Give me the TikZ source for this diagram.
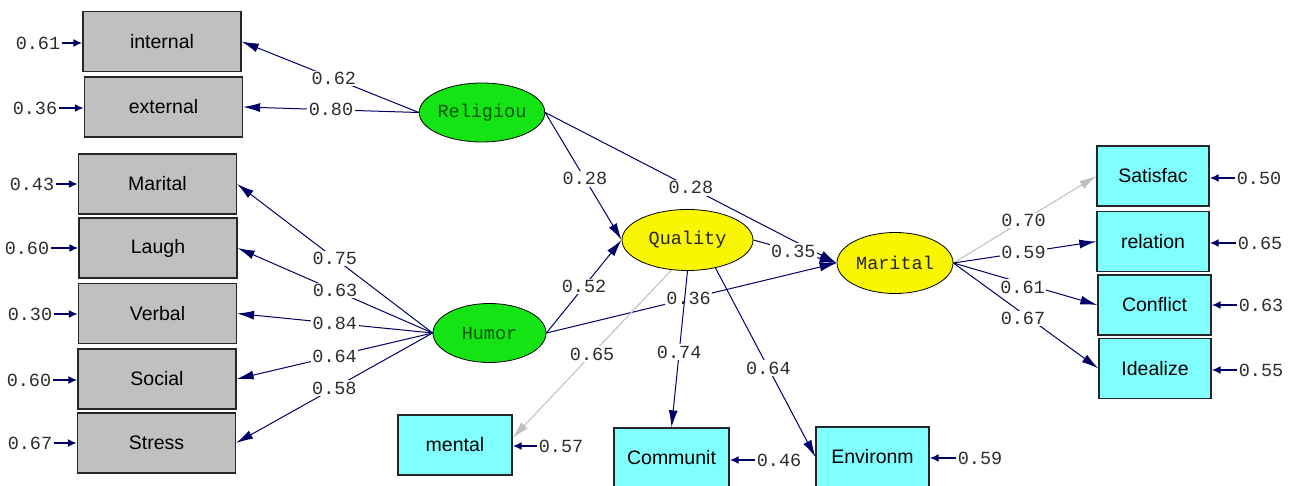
\documentclass[tikz,border=0pt]{standalone}
\usepackage{fontspec}
\setmainfont{Liberation Sans}
\newfontfamily\monof{Liberation Mono}
\usetikzlibrary{shapes.geometric,arrows.meta,calc}
\definecolor{navy}{RGB}{0,0,105}
\definecolor{labc}{RGB}{45,45,45}
\definecolor{boxgray}{RGB}{192,192,192}
\definecolor{boxcyan}{RGB}{128,255,255}
\definecolor{latgreen}{RGB}{20,228,20}
\definecolor{latyellow}{RGB}{250,245,0}
\definecolor{greentext}{RGB}{0,85,0}
\definecolor{lightline}{RGB}{190,190,190}
\begin{document}
\begin{tikzpicture}[x=1pt,y=-1pt,
  obsg/.style={rectangle, draw=black!85, line width=1.3pt, fill=boxgray, minimum width=158pt, minimum height=60pt, inner sep=0pt, font=\fontsize{19.5}{22}\selectfont},
  obsc/.style={rectangle, draw=black!85, line width=1.3pt, fill=boxcyan, minimum width=113pt, minimum height=60pt, inner sep=0pt, font=\fontsize{19.5}{22}\selectfont},
  latg/.style={ellipse, draw=black, line width=0.8pt, fill=latgreen, minimum width=113pt, minimum height=59pt, inner sep=0pt, text=greentext, font=\monof\fontsize{18.5}{20}\selectfont},
  laty/.style={ellipse, draw=black, line width=0.8pt, fill=latyellow, minimum height=61pt, inner sep=0pt, text=black!85, font=\monof\fontsize{18.5}{20}\selectfont},
  pth/.style={draw=navy, line width=1pt, -{Latex[length=17pt,width=9pt]}},
  pthl/.style={draw=lightline, line width=1pt, -{Latex[length=17pt,width=9pt]}},
  lab/.style={fill=white, inner sep=1.5pt, text=labc, font=\monof\fontsize{18.5}{20}\selectfont},
  errl/.style={inner sep=2pt, text=labc, font=\monof\fontsize{18.5}{20}\selectfont},
  errarr/.style={draw=navy, line width=2pt, -{Latex[length=9pt,width=8pt]}}
]
\fill[white] (0,0) rectangle (1293,486);
\useasboundingbox (0,0) rectangle (1293,486);

% left observed (gray)
\node[obsg] (internal) at (162,41.5) {internal};
\node[obsg] (external) at (163.5,107) {external};
\node[obsg] (mbox) at (157.5,184) {Marital};
\node[obsg] (laugh) at (158,248) {Laugh};
\node[obsg] (verbal) at (157.5,313.5) {Verbal};
\node[obsg] (social) at (157,379) {Social};
\node[obsg] (stress) at (156.5,443) {Stress};

% latent
\node[latg, minimum width=112pt] (rel) at (482,112.5) {Religiou};
\node[latg] (humor) at (489.5,333) {Humor};
\node[laty, minimum width=131pt] (qual) at (687.5,240) {Quality};
\node[laty, minimum width=116pt] (mar) at (895,263) {Marital};

% cyan observed
\node[obsc, minimum width=114pt] (mental) at (455,445) {mental};
\node[obsc, minimum width=115pt] (commun) at (671.5,458) {Communit};
\node[obsc] (environ) at (872.5,457) {Environm};
\node[obsc, minimum width=112pt] (satis) at (1153,176) {Satisfac};
\node[obsc, minimum width=112pt] (relat) at (1153,241.5) {relation};
\node[obsc] (confl) at (1154.5,305) {Conflict};
\node[obsc, minimum width=112pt] (ideal) at (1155,368.5) {Idealize};

% error terms left
\node[errl] (e1) at (38,43) {0.61};
\node[errl] (e2) at (35,108) {0.36};
\node[errl] (e3) at (32,184) {0.43};
\node[errl] (e4) at (27,248) {0.60};
\node[errl] (e5) at (30,314) {0.30};
\node[errl] (e6) at (29,380) {0.60};
\node[errl] (e7) at (30,443) {0.67};
\draw[errarr] (e1.east) -- (e1.east -| internal.west);
\draw[errarr] (e2.east) -- (e2.east -| external.west);
\draw[errarr] (e3.east) -- (e3.east -| mbox.west);
\draw[errarr] (e4.east) -- (e4.east -| laugh.west);
\draw[errarr] (e5.east) -- (e5.east -| verbal.west);
\draw[errarr] (e6.east) -- (e6.east -| social.west);
\draw[errarr] (e7.east) -- (e7.east -| stress.west);

% error terms right / bottom
\node[errl] (e8) at (561,446) {0.57};
\node[errl] (e9) at (779,460) {0.46};
\node[errl] (e10) at (980,458) {0.59};
\node[errl] (e11) at (1259,178) {0.50};
\node[errl] (e12) at (1260,243) {0.65};
\node[errl] (e13) at (1261,305) {0.63};
\node[errl] (e14) at (1261,370) {0.55};
\draw[errarr] (e8.west) -- (e8.west -| mental.east);
\draw[errarr] (e9.west) -- (e9.west -| commun.east);
\draw[errarr] (e10.west) -- (e10.west -| environ.east);
\draw[errarr] (e11.west) -- (e11.west -| satis.east);
\draw[errarr] (e12.west) -- (e12.west -| relat.east);
\draw[errarr] (e13.west) -- (e13.west -| confl.east);
\draw[errarr] (e14.west) -- (e14.west -| ideal.east);

% Religiou loadings
\draw[pth] (rel.west) -- node[lab, pos=0.48] (l1) {0.62} (internal.east);
\draw[pth] (rel.west) -- node[lab, pos=0.5] (l2) {0.80} (external.east);

% Humor loadings
\draw[pth] (humor.west) -- node[lab, pos=0.5] (l3) {0.75} (mbox.east);
\draw[pth] (humor.west) -- node[lab, pos=0.5] (l4) {0.63} (laugh.east);
\draw[pth] (humor.west) -- node[lab, pos=0.5] (l5) {0.84} (verbal.east);
\draw[pth] (humor.west) -- node[lab, pos=0.5] (l6) {0.64} (social.east);
\draw[pth] (humor.west) -- node[lab, pos=0.5] (l7) {0.58} (stress.east);

% structural paths
\draw[pth] (rel.east) -- node[lab, pos=0.52] (l8) {0.28} (qual.west);
\draw[pth] (rel.east) -- node[lab, pos=0.5] (l9) {0.28} (mar.west);
\draw[pth] (humor.east) -- node[lab, pos=0.5] (l10) {0.52} (qual.west);
\draw[pth] (humor.east) -- node[lab, pos=0.49] (l11) {0.36} (mar.west);
\draw[pth] (qual.east) -- node[lab, pos=0.48] (l12) {0.35} (mar.west);

% Quality loadings
\draw[pthl] (qual.-118) -- node[lab, pos=0.5] (l13) {0.65} (mental.7);
\draw[pth] (qual.south) -- node[lab, pos=0.52] (l14) {0.74} (commun.north);
\draw[pth] (qual.-45) -- node[lab, pos=0.53] (l15) {0.64} (environ.west);

% Marital loadings
\draw[pthl] (mar.east) -- node[lab, pos=0.49] (l16) {0.70} (satis.west);
\draw[pth] (mar.east) -- node[lab, pos=0.49] (l17) {0.59} (relat.west);
\draw[pth] (mar.east) -- node[lab, pos=0.48, yshift=-4pt] (l18) {0.61} (confl.west);
\draw[pth] (mar.east) -- node[lab, pos=0.48, yshift=-5pt] (l19) {0.67} (ideal.west);
\end{tikzpicture}
\end{document}
